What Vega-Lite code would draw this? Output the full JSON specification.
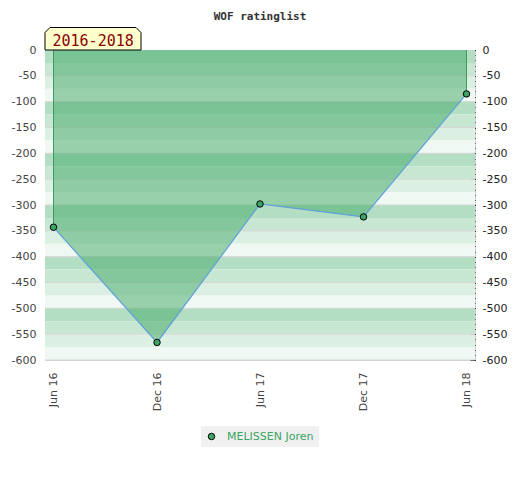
{
  "$schema": "https://vega.github.io/schema/vega-lite/v6.json",
  "width": 430,
  "height": 310,
  "autosize": {"type": "none"},
  "padding": {"left": 45, "top": 50, "right": 45, "bottom": 120},
  "background": "white",
  "title": {
    "text": "WOF ratinglist",
    "font": "DejaVu Sans Mono",
    "fontSize": 11,
    "fontWeight": "bold",
    "color": "#333333",
    "anchor": "middle",
    "frame": "group",
    "baseline": "alphabetic",
    "offset": -5
  },
  "config": {
    "view": {"stroke": "#d0d0d0"},
    "axis": {
      "labelFont": "DejaVu Sans",
      "labelFontSize": 11,
      "labelColor": "#444444",
      "grid": false,
      "domain": false,
      "title": null
    }
  },
  "datasets": {
    "bands": [
      {"top": 0, "bottom": -25, "shade": 1},
      {"top": -25, "bottom": -50, "shade": 2},
      {"top": -50, "bottom": -75, "shade": 3},
      {"top": -75, "bottom": -100, "shade": 4},
      {"top": -100, "bottom": -125, "shade": 1},
      {"top": -125, "bottom": -150, "shade": 2},
      {"top": -150, "bottom": -175, "shade": 3},
      {"top": -175, "bottom": -200, "shade": 4},
      {"top": -200, "bottom": -225, "shade": 1},
      {"top": -225, "bottom": -250, "shade": 2},
      {"top": -250, "bottom": -275, "shade": 3},
      {"top": -275, "bottom": -300, "shade": 4},
      {"top": -300, "bottom": -325, "shade": 1},
      {"top": -325, "bottom": -350, "shade": 2},
      {"top": -350, "bottom": -375, "shade": 3},
      {"top": -375, "bottom": -400, "shade": 4},
      {"top": -400, "bottom": -425, "shade": 1},
      {"top": -425, "bottom": -450, "shade": 2},
      {"top": -450, "bottom": -475, "shade": 3},
      {"top": -475, "bottom": -500, "shade": 4},
      {"top": -500, "bottom": -525, "shade": 1},
      {"top": -525, "bottom": -550, "shade": 2},
      {"top": -550, "bottom": -575, "shade": 3},
      {"top": -575, "bottom": -600, "shade": 4}
    ],
    "ratings": [
      {"date": "2016-06-01", "rating": -343, "player": "MELISSEN Joren"},
      {"date": "2016-12-01", "rating": -566, "player": "MELISSEN Joren"},
      {"date": "2017-06-01", "rating": -298, "player": "MELISSEN Joren"},
      {"date": "2017-12-01", "rating": -323, "player": "MELISSEN Joren"},
      {"date": "2018-06-01", "rating": -85, "player": "MELISSEN Joren"}
    ],
    "period": [{"date": "2016-06-01", "label": "2016-2018"}]
  },
  "resolve": {"scale": {"color": "independent"}, "axis": {"y": "independent"}},
  "layer": [
    {
      "data": {"name": "bands"},
      "mark": {"type": "rect"},
      "encoding": {
        "y": {
          "field": "top",
          "type": "quantitative",
          "scale": {"domain": [-600, 0], "nice": false, "zero": false},
          "axis": {"orient": "left", "ticks": false, "labelPadding": 9, "tickCount": 12, "labelExpr": "'' + datum.value"}
        },
        "y2": {"field": "bottom"},
        "color": {
          "field": "shade",
          "type": "ordinal",
          "scale": {"domain": [1, 2, 3, 4], "range": ["#b3dec3", "#c7e7d2", "#dcefe3", "#eff8f2"]},
          "legend": null
        }
      }
    },
    {
      "data": {"name": "bands"},
      "transform": [{"filter": "datum.shade == 2 || datum.shade == 4"}],
      "mark": {"type": "rule", "color": "#d6d6d6", "strokeWidth": 1},
      "encoding": {
        "y": {"field": "bottom", "type": "quantitative", "scale": {"domain": [-600, 0], "nice": false, "zero": false}, "axis": null}
      }
    },
    {
      "data": {"name": "ratings"},
      "mark": {"type": "area", "fill": "#41a766", "fillOpacity": 0.5},
      "encoding": {
        "x": {
          "field": "date",
          "type": "temporal",
          "scale": {"type": "utc", "padding": 8.5},
          "axis": {
            "values": [
              {"year": 2016, "month": 6, "date": 1, "utc": true},
              {"year": 2016, "month": 12, "date": 1, "utc": true},
              {"year": 2017, "month": 6, "date": 1, "utc": true},
              {"year": 2017, "month": 12, "date": 1, "utc": true},
              {"year": 2018, "month": 6, "date": 1, "utc": true}
            ],
            "format": "%b %y",
            "labelAngle": 270,
            "labelAlign": "right",
            "labelBaseline": "middle",
            "ticks": false,
            "labelPadding": 12
          }
        },
        "y": {"field": "rating", "type": "quantitative", "scale": {"domain": [-600, 0], "nice": false, "zero": false}, "axis": null},
        "y2": {"datum": 0}
      }
    },
    {
      "data": {"name": "ratings"},
      "transform": [
        {"joinaggregate": [{"op": "min", "field": "date", "as": "dmin"}, {"op": "max", "field": "date", "as": "dmax"}]},
        {"filter": "time(datum.date) == time(datum.dmin) || time(datum.date) == time(datum.dmax)"}
      ],
      "mark": {"type": "rule", "color": "#3b9c5e", "strokeWidth": 1},
      "encoding": {
        "x": {"field": "date", "type": "temporal", "scale": {"type": "utc", "padding": 8.5}},
        "y": {"field": "rating", "type": "quantitative", "scale": {"domain": [-600, 0], "nice": false, "zero": false}, "axis": null},
        "y2": {"datum": 0}
      }
    },
    {
      "data": {"name": "ratings"},
      "mark": {"type": "line", "color": "#5ea1dc", "strokeWidth": 1.2},
      "encoding": {
        "x": {"field": "date", "type": "temporal", "scale": {"type": "utc", "padding": 8.5}},
        "y": {
          "field": "rating",
          "type": "quantitative",
          "scale": {"domain": [-600, 0], "nice": false, "zero": false},
          "axis": {
            "orient": "right",
            "tickCount": 12,
            "ticks": true,
            "tickSize": 5,
            "tickColor": "#000000",
            "offset": -5,
            "labelPadding": 7,
            "labelColor": "#222222",
            "labelExpr": "'' + datum.value"
          }
        }
      }
    },
    {
      "data": {"name": "ratings"},
      "mark": {"type": "point", "filled": true, "size": 42, "stroke": "#000000", "strokeWidth": 1, "opacity": 1},
      "encoding": {
        "x": {"field": "date", "type": "temporal", "scale": {"type": "utc", "padding": 8.5}},
        "y": {
          "field": "rating",
          "type": "quantitative",
          "scale": {"domain": [-600, 0], "nice": false, "zero": false},
          "axis": {
            "orient": "right",
            "tickCount": 60,
            "ticks": true,
            "tickSize": 3.5,
            "tickColor": "#000000",
            "offset": -3.5,
            "labels": false
          }
        },
        "color": {
          "field": "player",
          "type": "nominal",
          "scale": {"range": ["#3aa564"]},
          "legend": {
            "title": null,
            "orient": "none",
            "legendX": 156,
            "legendY": 376,
            "fillColor": "#f0f0f0",
            "padding": 5,
            "labelColor": "#3aa564",
            "labelFont": "DejaVu Sans",
            "labelFontSize": 11,
            "labelOffset": 10,
            "symbolType": "circle",
            "symbolSize": 42,
            "symbolStrokeColor": "#000000",
            "symbolStrokeWidth": 1
          }
        }
      }
    },
    {
      "data": {"name": "period"},
      "mark": {
        "type": "point",
        "shape": "M-8.5,0L-8.5,-17.5L-3.5,-22.5L82.5,-22.5L87.5,-17.5L87.5,0Z",
        "size": 4,
        "filled": true,
        "fill": "#ffffcc",
        "stroke": "#000000",
        "strokeWidth": 1,
        "opacity": 1
      },
      "encoding": {
        "x": {"field": "date", "type": "temporal", "scale": {"type": "utc", "padding": 8.5}},
        "y": {"datum": 0, "type": "quantitative", "axis": null}
      }
    },
    {
      "data": {"name": "period"},
      "mark": {
        "type": "text",
        "font": "DejaVu Sans Mono",
        "fontSize": 15,
        "color": "#8b0000",
        "align": "left",
        "baseline": "alphabetic",
        "dx": -1,
        "dy": -4
      },
      "encoding": {
        "x": {"field": "date", "type": "temporal", "scale": {"type": "utc", "padding": 8.5}},
        "y": {"datum": 0, "type": "quantitative", "axis": null},
        "text": {"field": "label"}
      }
    }
  ]
}
